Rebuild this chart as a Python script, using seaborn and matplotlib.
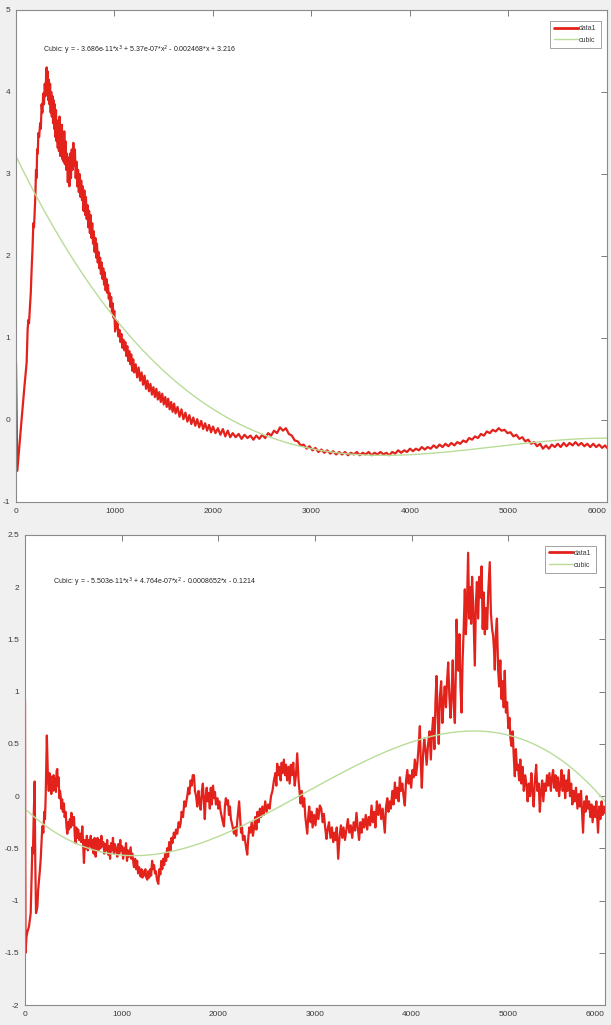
import numpy as np
import pandas as pd
import matplotlib
matplotlib.use("Agg")
import matplotlib.pyplot as plt
import seaborn as sns

# ---------------- data ----------------
# upper panel: measured signal
TOP_X = [0, 13, 35, 60, 85, 108, 118, 125, 132, 140, 150, 159, 168, 176, 183, 190, 197, 203, 209, 215,
         221, 227, 235, 245, 252, 260, 268, 276, 284, 292, 300, 306, 311, 316, 322, 328, 334, 340, 346, 352,
         358, 364, 370, 376, 382, 388, 394, 400, 406, 412, 418, 424, 430, 436, 442, 448, 454, 460, 466, 472,
         478, 484, 490, 496, 502, 510, 518, 526, 534, 542, 550, 558, 566, 574, 582, 590, 598, 606, 614, 622,
         630, 638, 646, 654, 662, 670, 678, 686, 694, 702, 710, 718, 726, 734, 742, 750, 758, 766, 774, 782,
         790, 798, 806, 814, 822, 830, 838, 846, 854, 862, 870, 878, 886, 894, 902, 910, 918, 926, 934, 942,
         950, 958, 966, 974, 982, 990, 998, 1006, 1014, 1022, 1030, 1040, 1050, 1060, 1070, 1080, 1090, 1100,
         1110, 1120, 1130, 1140, 1150, 1160, 1170, 1180, 1190, 1200, 1215, 1230, 1245, 1260, 1275, 1290, 1305,
         1320, 1335, 1350, 1365, 1380, 1395, 1410, 1425, 1440, 1455, 1470, 1485, 1500, 1515, 1530, 1545, 1560,
         1575, 1590, 1605, 1620, 1640, 1660, 1680, 1700, 1720, 1740, 1760, 1780, 1800, 1820, 1840, 1860, 1880,
         1900, 1920, 1940, 1960, 1980, 2000, 2025, 2050, 2075, 2100, 2125, 2150, 2175,
         2200, 2230, 2260, 2290, 2320, 2350, 2380, 2410, 2440, 2470, 2500, 2530, 2560, 2590, 2620, 2650, 2680,
         2710, 2740, 2770, 2800, 2830, 2860, 2890, 2920, 2950, 2980, 3010, 3040, 3070, 3100, 3130, 3160, 3190,
         3220, 3250, 3280, 3310, 3340, 3370, 3400, 3430, 3460, 3490, 3520, 3550, 3580, 3610, 3640, 3670, 3700,
         3730, 3760, 3790, 3820, 3850, 3880, 3910, 3940, 3970, 4000, 4030, 4060, 4090, 4120, 4150, 4180, 4210,
         4240, 4270, 4300, 4330, 4360, 4390, 4420, 4450, 4480, 4510, 4540, 4570, 4600, 4630, 4660, 4690, 4720,
         4750, 4780, 4810, 4840, 4870, 4900, 4930, 4960, 4990, 5020, 5050, 5080, 5110, 5140, 5170, 5200, 5230,
         5260, 5290, 5320, 5350, 5380, 5410, 5440, 5470, 5500, 5530, 5560, 5590, 5620, 5650, 5680, 5710, 5740,
         5770, 5800, 5830, 5860, 5890, 5920, 5950, 5980, 6000]
TOP_Y = [0.70, -0.62, -0.30, 0.05, 0.40, 0.70, 1.10, 1.22, 1.18, 1.35, 1.55, 1.85, 2.10, 2.40, 2.35, 2.55, 2.75, 3.05, 2.95, 3.30,
         3.25, 3.50, 3.45, 3.62, 3.55, 3.85, 3.75, 3.98, 3.85, 4.10, 3.95, 4.22, 4.30, 4.05, 4.25, 3.90, 4.15, 3.85, 4.10, 3.75,
         4.00, 3.70, 3.95, 3.62, 3.90, 3.55, 3.85, 3.45, 3.78, 3.40, 3.65, 3.32, 3.60, 3.28, 3.70, 3.22, 3.55, 3.25, 3.60, 3.18,
         3.50, 3.15, 3.52, 3.12, 3.40, 3.05, 3.25, 2.90, 3.20, 2.85, 3.25, 2.95, 3.30, 3.05, 3.38, 3.10, 3.30, 2.95, 3.15, 2.85,
         3.05, 2.78, 3.00, 2.72, 2.92, 2.68, 2.85, 2.55, 2.80, 2.50, 2.72, 2.45, 2.62, 2.35, 2.55, 2.28, 2.50, 2.22, 2.40, 2.15,
         2.30, 2.05, 2.22, 1.98, 2.15, 1.92, 2.05, 1.85, 1.98, 1.78, 1.92, 1.72, 1.85, 1.65, 1.80, 1.58, 1.72, 1.55, 1.65, 1.48,
         1.55, 1.38, 1.50, 1.32, 1.42, 1.25, 1.33, 1.08, 1.22, 1.12, 1.20, 1.02, 1.10, 0.95, 1.05, 0.88, 0.98, 0.85,
         0.95, 0.78, 0.90, 0.72, 0.84, 0.68, 0.80, 0.60, 0.74, 0.58, 0.68, 0.52, 0.64, 0.48, 0.58, 0.43, 0.54,
         0.38, 0.48, 0.35, 0.44, 0.31, 0.40, 0.28, 0.38, 0.25, 0.34, 0.22, 0.32, 0.19, 0.28, 0.16, 0.26, 0.13,
         0.22, 0.10, 0.20, 0.08, 0.16, 0.04, 0.13, 0.01, 0.09, -0.02, 0.06, -0.05, 0.03, -0.07, 0.01, -0.09, -0.01,
         -0.11, -0.04, -0.13, -0.06, -0.15, -0.08, -0.16, -0.10, -0.18, -0.11, -0.20, -0.13, -0.21,
         -0.16, -0.21, -0.17, -0.23, -0.18, -0.22, -0.19, -0.24, -0.19, -0.23, -0.18, -0.22, -0.16, -0.19, -0.13, -0.16, -0.09,
         -0.13, -0.10, -0.17, -0.19, -0.25, -0.26, -0.31, -0.30, -0.35, -0.32, -0.37, -0.34, -0.39, -0.36, -0.40, -0.37, -0.41,
         -0.38, -0.42, -0.39, -0.42, -0.39, -0.43, -0.40, -0.42, -0.39, -0.43, -0.40, -0.42, -0.39, -0.43, -0.40, -0.42, -0.39,
         -0.42, -0.40, -0.43, -0.39, -0.41, -0.37, -0.40, -0.37, -0.39, -0.35, -0.38, -0.35, -0.37, -0.33, -0.36, -0.33, -0.35,
         -0.31, -0.34, -0.30, -0.33, -0.29, -0.32, -0.28, -0.31, -0.27, -0.29, -0.25, -0.27, -0.22, -0.24, -0.20, -0.22, -0.17,
         -0.19, -0.14, -0.16, -0.12, -0.14, -0.10, -0.13, -0.12, -0.16, -0.15, -0.20, -0.18, -0.23, -0.21, -0.26, -0.24, -0.29,
         -0.27, -0.32, -0.29, -0.35, -0.31, -0.35, -0.30, -0.33, -0.29, -0.33, -0.28, -0.32, -0.28, -0.31, -0.27, -0.31, -0.28,
         -0.32, -0.29, -0.33, -0.29, -0.33, -0.30, -0.34, -0.31, -0.34]

# lower panel: measured signal
BOT_X = [0, 3, 6, 15, 25, 41, 59, 68, 76, 82, 90, 100, 106, 114, 128, 136, 145, 153, 162, 170,
         179, 190, 200, 207, 214, 220, 226, 232, 238, 246, 254, 260, 265, 272, 280, 288, 296, 304, 312, 320,
         327, 334, 340, 348, 355, 362, 369, 376, 384, 392, 403, 410, 420, 430, 438, 446, 455, 464, 472, 480,
         490, 500, 507, 515, 522, 530, 540, 550, 560, 570, 580, 593, 602, 610, 620, 630, 640, 650, 660, 670,
         680, 690, 700, 710, 720, 731, 740, 750, 760, 770, 780, 790, 800, 810, 820, 830, 840, 850, 860, 870,
         880, 890, 900, 910, 920, 930, 940, 955, 965, 975, 985, 995, 1005, 1015, 1025, 1035, 1045, 1055, 1065, 1075,
         1093, 1100, 1110, 1127, 1140, 1150, 1160, 1170, 1180, 1196, 1205, 1215, 1225, 1235, 1245, 1255, 1265, 1275, 1285, 1295,
         1305, 1315, 1325, 1335, 1345, 1355, 1365, 1379, 1390, 1400, 1410, 1420, 1430, 1440, 1450, 1460, 1470, 1480, 1492, 1506,
         1515, 1525, 1540, 1550, 1562, 1575, 1590, 1600, 1610, 1620, 1635, 1648, 1660, 1679, 1690, 1700, 1713, 1725, 1735, 1748,
         1758, 1770, 1782, 1795, 1805, 1817, 1830, 1840, 1850, 1860, 1870, 1880, 1890, 1900, 1912, 1922, 1932, 1945, 1955, 1965,
         1975, 1990, 2000, 2010, 2025, 2040, 2058, 2068, 2078, 2090, 2100, 2110, 2120, 2130, 2145, 2162, 2175, 2185, 2195, 2205,
         2215, 2225, 2235, 2245, 2255, 2270, 2285, 2299, 2310, 2320, 2332, 2345, 2358, 2370, 2382, 2394, 2405, 2418, 2430, 2442,
         2455, 2470, 2485, 2500, 2515, 2530, 2545, 2560, 2575, 2590, 2600, 2609, 2620, 2632, 2645, 2655, 2665, 2678, 2690, 2700,
         2712, 2725, 2738, 2750, 2762, 2775, 2790, 2803, 2816, 2830, 2840, 2851, 2862, 2875, 2888, 2900, 2920, 2930, 2940, 2955,
         2965, 2975, 2990, 3005, 3020, 3035, 3050, 3065, 3080, 3092, 3105, 3119, 3130, 3145, 3160, 3175, 3188, 3200, 3212, 3225,
         3240, 3255, 3268, 3282, 3295, 3310, 3325, 3340, 3355, 3370, 3385, 3400, 3415, 3429, 3442, 3456, 3470, 3482, 3495, 3510,
         3525, 3540, 3555, 3570, 3585, 3598, 3612, 3625, 3640, 3655, 3670, 3685, 3700, 3722, 3735, 3748, 3760, 3772, 3785, 3800,
         3813, 3826, 3840, 3852, 3865, 3878, 3890, 3903, 3916, 3929, 3942, 3955, 3968, 3980, 3995, 4008, 4020, 4033, 4045, 4058,
         4070, 4085, 4095, 4105, 4118, 4130, 4142, 4155, 4170, 4185, 4198, 4210, 4222, 4235, 4246, 4257, 4268, 4280, 4292, 4305,
         4318, 4330, 4342, 4355, 4366, 4378, 4390, 4402, 4414, 4425, 4436, 4447, 4458, 4464, 4475, 4485, 4495, 4505, 4516, 4527,
         4538, 4550, 4560, 4570, 4584, 4595, 4605, 4615, 4625, 4638, 4653, 4665, 4675, 4688, 4700, 4712, 4723, 4735, 4745, 4757,
         4768, 4780, 4792, 4808, 4820, 4832, 4843, 4852, 4860, 4870, 4882, 4895, 4905, 4917, 4929, 4940, 4952, 4963, 4975, 4987,
         5000, 5012, 5022, 5033, 5045, 5055, 5067, 5078, 5090, 5100, 5112, 5124, 5136, 5148, 5160, 5175, 5188, 5200, 5212, 5225,
         5238, 5250, 5262, 5275, 5288, 5300, 5314, 5326, 5338, 5350, 5362, 5375, 5388, 5400, 5412, 5425, 5440, 5452, 5463, 5475,
         5488, 5500, 5512, 5525, 5538, 5550, 5562, 5575, 5588, 5600, 5612, 5625, 5638, 5650, 5662, 5675, 5688, 5700, 5715, 5728,
         5740, 5752, 5762, 5773, 5785, 5798, 5810, 5822, 5835, 5848, 5860, 5872, 5885, 5898, 5910, 5928, 5940, 5952, 5965, 5977,
         5988, 5997, 6000]
BOT_Y = [0.92, -0.60, -1.50, -1.35, -1.30, -1.25, -1.12, -0.80, -0.49, -0.55, -0.20, 0.14, -0.60, -1.12, -1.06, -0.90, -0.81, -0.72, -0.61, -0.45,
         -0.29, -0.35, -0.15, -0.22, 0.00, 0.30, 0.58, 0.35, 0.15, 0.05, 0.22, 0.08, 0.19, 0.02, 0.12, 0.05, 0.20, 0.06, 0.17, 0.04,
         0.24, 0.26, 0.10, 0.18, -0.02, 0.05, 0.00, -0.12, -0.03, -0.15, -0.07, -0.20, -0.15, -0.30, -0.36, -0.25, -0.32, -0.22, -0.30, -0.16,
         -0.28, -0.20, -0.20, -0.38, -0.45, -0.30, -0.40, -0.32, -0.42, -0.36, -0.44, -0.29, -0.48, -0.64, -0.42, -0.50, -0.38, -0.52, -0.42, -0.48,
         -0.38, -0.50, -0.42, -0.55, -0.40, -0.58, -0.45, -0.40, -0.52, -0.42, -0.50, -0.38, -0.48, -0.44, -0.55, -0.46, -0.52, -0.42, -0.56, -0.48,
         -0.60, -0.45, -0.52, -0.40, -0.55, -0.46, -0.50, -0.58, -0.46, -0.55, -0.42, -0.52, -0.48, -0.60, -0.50, -0.56, -0.45, -0.62, -0.52, -0.58,
         -0.49, -0.60, -0.55, -0.68, -0.60, -0.70, -0.62, -0.74, -0.68, -0.77, -0.70, -0.78, -0.72, -0.76, -0.70, -0.78, -0.80, -0.72, -0.78, -0.70,
         -0.76, -0.62, -0.70, -0.66, -0.74, -0.72, -0.80, -0.84, -0.70, -0.75, -0.62, -0.70, -0.60, -0.66, -0.55, -0.62, -0.50, -0.58, -0.44, -0.52,
         -0.40, -0.45, -0.35, -0.40, -0.32, -0.36, -0.25, -0.30, -0.26, -0.15, -0.20, -0.05, -0.10, 0.00, 0.08, 0.02, 0.15, 0.10, 0.20, 0.20,
         0.05, 0.00, -0.10, 0.05, -0.05, -0.13, 0.05, 0.12, -0.05, -0.22, 0.00, 0.08, -0.05, 0.03, -0.12, 0.08, -0.08, 0.10, -0.02, 0.04,
         -0.08, -0.02, -0.12, -0.05, -0.15, -0.22, -0.29, -0.10, -0.02, -0.08, -0.04, -0.18, -0.10, -0.22, -0.28, -0.36, -0.30, -0.38, -0.25, -0.15,
         -0.05, -0.20, -0.35, -0.30, -0.42, -0.38, -0.48, -0.56, -0.40, -0.30, -0.35, -0.25, -0.38, -0.30, -0.20, -0.32, -0.15, -0.25, -0.12, -0.20,
         -0.10, -0.18, -0.05, -0.15, -0.08, -0.12, 0.00, 0.05, 0.15, 0.22, 0.10, 0.31, 0.20, 0.28, 0.15, 0.32, 0.22, 0.35, 0.20, 0.30,
         0.15, 0.28, 0.12, 0.30, 0.20, 0.32, 0.10, 0.20, 0.41, 0.15, 0.05, -0.07, 0.05, -0.10, -0.02, -0.20, -0.36, -0.20, -0.10, -0.25,
         -0.15, -0.30, -0.18, -0.28, -0.12, -0.22, -0.09, -0.12, -0.25, -0.17, -0.30, -0.41, -0.32, -0.25, -0.40, -0.30, -0.44, -0.35, -0.42, -0.30,
         -0.60, -0.38, -0.28, -0.40, -0.30, -0.42, -0.32, -0.22, -0.35, -0.28, -0.40, -0.25, -0.33, -0.16, -0.30, -0.42, -0.25, -0.35, -0.22, -0.30,
         -0.18, -0.32, -0.20, -0.28, -0.09, -0.25, -0.15, -0.30, -0.05, -0.18, -0.08, -0.22, -0.12, -0.35, -0.10, -0.02, -0.15, -0.05, -0.12, 0.05,
         -0.08, 0.13, -0.02, 0.08, -0.05, 0.18, 0.05, 0.12, 0.00, -0.09, 0.15, 0.25, 0.12, 0.20, 0.08, 0.25, 0.18, 0.35, 0.20, 0.30,
         0.45, 0.67, 0.30, 0.08, 0.40, 0.55, 0.45, 0.30, 0.50, 0.62, 0.35, 0.60, 0.75, 0.45, 0.90, 1.15, 0.80, 0.50, 0.95, 1.10,
         0.70, 0.90, 1.05, 0.85, 1.10, 1.28, 0.95, 0.75, 1.00, 1.30, 0.85, 0.70, 1.25, 1.69, 1.40, 1.20, 1.55, 1.05, 0.80, 1.30,
         1.60, 1.98, 1.55, 1.75, 2.33, 1.70, 2.00, 1.65, 2.10, 1.80, 1.25, 1.85, 2.05, 1.70, 2.10, 1.90, 2.20, 1.60, 1.95, 1.55,
         1.80, 1.60, 1.95, 2.24, 1.75, 1.60, 1.53, 1.40, 1.21, 1.55, 1.70, 1.20, 1.05, 1.30, 0.93, 1.10, 0.85, 1.20, 0.80, 0.90,
         0.65, 0.75, 0.55, 0.48, 0.62, 0.40, 0.19, 0.45, 0.25, 0.30, 0.15, 0.35, 0.12, 0.28, 0.05, 0.20, 0.10, -0.05, 0.12, 0.00,
         0.22, 0.05, -0.10, 0.15, 0.30, 0.05, 0.12, -0.15, 0.05, 0.15, -0.05, 0.12, 0.05, 0.20, 0.10, 0.22, 0.05, 0.18, 0.25, 0.08,
         0.20, 0.05, 0.18, 0.00, 0.12, 0.25, 0.05, 0.20, -0.02, 0.15, 0.05, 0.25, 0.00, 0.12, -0.08, 0.05, -0.05, 0.08, -0.12, 0.02,
         -0.10, 0.05, -0.15, -0.35, -0.05, -0.15, 0.00, -0.12, -0.05, -0.20, -0.08, -0.25, -0.10, -0.20, -0.05, -0.35, -0.10, -0.22, -0.05, -0.18,
         -0.10, -0.16, -0.12]

# cubic fit coefficients (highest power first)
TOP_FIT = [-3.686e-11, 5.37e-07, -0.002468, 3.216]
BOT_FIT = [-5.503e-11, 4.764e-07, -0.0008652, -0.1214]
TOP_EQ = "Cubic: y = - 3.686e-11*x$^{3}$ + 5.37e-07*x$^{2}$ - 0.002468*x + 3.216"
BOT_EQ = "Cubic: y = - 5.503e-11*x$^{3}$ + 4.764e-07*x$^{2}$ - 0.0008652*x - 0.1214"

X_TICKS = [0, 1000, 2000, 3000, 4000, 5000, 6000]
TOP_YTICKS = [-1, 0, 1, 2, 3, 4, 5]
TOP_YLABELS = ["-1", "0", "1", "2", "3", "4", "5"]
BOT_YTICKS = [-2, -1.5, -1, -0.5, 0, 0.5, 1, 1.5, 2, 2.5]
BOT_YLABELS = ["-2", "-1.5", "-1", "-0.5", "0", "0.5", "1", "1.5", "2", "2.5"]

# ---------------- style ----------------
sns.set_theme(style="white")
plt.rcParams["font.family"] = ["Liberation Sans Narrow", "Liberation Sans", "DejaVu Sans"]
plt.rcParams["axes.unicode_minus"] = False

RED = "#e3221c"
GREEN = "#b9dc98"
TXT = "#3a3a3a"

fig = plt.figure(figsize=(6.11, 10.25), dpi=100, facecolor="#f0f0f0")
W, H = 611.0, 1025.0
ax_top = fig.add_axes([16 / W, 1 - 502 / H, 591 / W, 492 / H])
ax_bot = fig.add_axes([25 / W, 1 - 1005 / H, 580 / W, 470 / H])


def draw_panel(ax, xs, ys, fit, eq, ylim, yticks, ylabels, eq_pos, leg_anchor):
    ax.set_facecolor("white")
    sig = pd.DataFrame({"x": xs, "y": ys})
    sns.lineplot(data=sig, x="x", y="y", ax=ax, color=RED, lw=1.6,
                 estimator=None, sort=False, label="data1")
    gx = np.linspace(0, 6000, 400)
    curve = pd.DataFrame({"x": gx, "y": np.polyval(fit, gx)})
    sns.lineplot(data=curve, x="x", y="y", ax=ax, color=GREEN, lw=1.0,
                 estimator=None, sort=False, label="cubic")
    ax.set_xlim(0, 6000)
    ax.set_ylim(*ylim)
    ax.set_xticks(X_TICKS)
    ax.set_xticklabels([str(t) for t in X_TICKS])
    # keep the last x label inside the figure edge
    ax.get_xticklabels()[-1].set_horizontalalignment("right")
    ax.set_yticks(yticks)
    ax.set_yticklabels(ylabels)
    ax.set_xlabel("")
    ax.set_ylabel("")
    ax.tick_params(direction="in", length=4, width=0.6, top=True, right=True,
                   labelsize=6, colors="#666666", labelcolor=TXT, pad=4)
    for s in ax.spines.values():
        s.set_color("#8a8a8a")
        s.set_linewidth(0.8)
    ax.text(eq_pos[0], eq_pos[1], eq, transform=ax.transAxes, fontsize=5,
            color="#222222", ha="left", va="center")
    leg = ax.legend(loc="upper right", bbox_to_anchor=leg_anchor, fontsize=5,
                    frameon=True, fancybox=False, handlelength=3.4, handletextpad=0.2,
                    borderpad=0.6, labelspacing=0.7, edgecolor="#8a8a8a")
    leg.get_frame().set_linewidth(0.7)
    for t in leg.get_texts():
        t.set_color(TXT)
    for h in leg.get_lines():
        if h.get_label() == "data1":
            h.set_linewidth(2.0)


draw_panel(ax_top, TOP_X, TOP_Y, TOP_FIT, TOP_EQ, (-1, 5), TOP_YTICKS, TOP_YLABELS,
           (0.046, 0.918), (0.995, 0.985))
draw_panel(ax_bot, BOT_X, BOT_Y, BOT_FIT, BOT_EQ, (-2, 2.5), BOT_YTICKS, BOT_YLABELS,
           (0.048, 0.90), (0.99, 0.985))

fig.savefig("out.png", dpi=100, facecolor=fig.get_facecolor())
